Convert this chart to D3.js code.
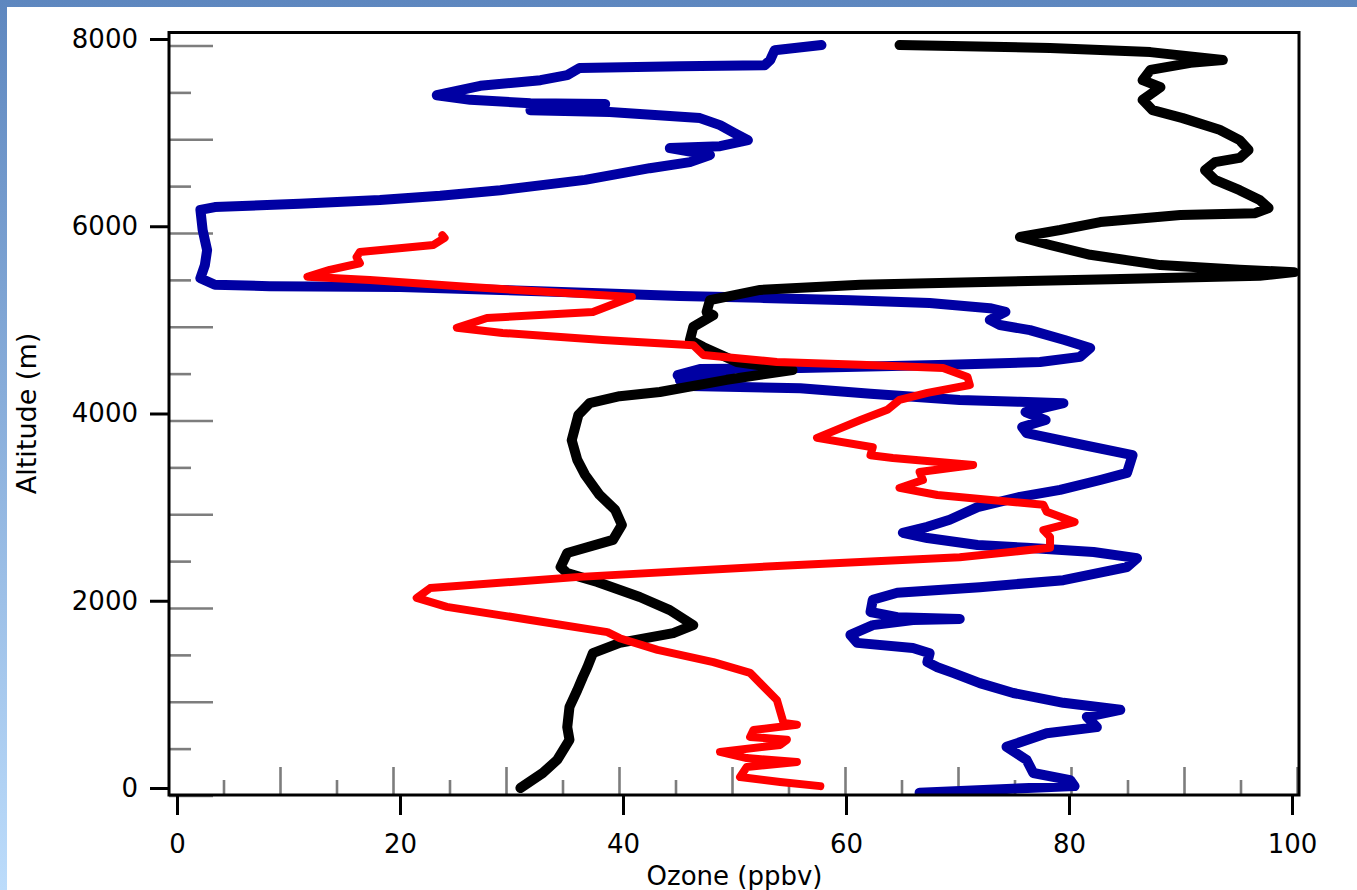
<!DOCTYPE html>
<html>
<head>
<meta charset="utf-8">
<script src="https://cdn.jsdelivr.net/npm/d3@7"></script>
<style>
  html, body { margin: 0; padding: 0; overflow: hidden; }
  body { width: 1357px; height: 890px; }
  svg { display: block; }
  text { font-family: "DejaVu Sans", Verdana, sans-serif; }
</style>
</head>
<body>
<svg id="chart" width="1357" height="890"></svg>
<script>
// ---- Data (ozone ppbv, altitude m) ----
const blueProfile = [
  [57.8,7935],[53.6,7880],[53.2,7775],[52.7,7720],[45.1,7710],[36.1,7690],[35.0,7615],
  [32.6,7560],[27.2,7500],[23.3,7400],[26.3,7350],[31.7,7315],[38.4,7305],[31.7,7240],
  [38.8,7220],[46.9,7155],[48.7,7080],[50.0,6995],[51.2,6920],[48.7,6855],[44.2,6835],
  [47.8,6760],[46.0,6685],[42.4,6620],[36.6,6495],[29.0,6385],[23.6,6325],[18.2,6280],
  [11.0,6240],[3.4,6205],[2.1,6175],[2.3,5960],[2.7,5745],[2.5,5585],[2.1,5445],
  [3.4,5375],[8.3,5360],[20.0,5350],[29.0,5320],[37.9,5285],[45.1,5255],[52.3,5235],
  [60.4,5210],[67.5,5180],[72.9,5125],[74.3,5085],[72.9,5000],[73.8,4945],[76.5,4890],
  [79.6,4785],[81.9,4700],[81.0,4605],[77.4,4550],[69.3,4520],[55.9,4485],[46.9,4475],
  [44.9,4410],[49.6,4440],[45.1,4358],[49.6,4326],[46.0,4294],[55.9,4270],[62.2,4210],
  [70.2,4145],[75.6,4125],[79.5,4110],[76.1,4015],[77.9,3930],[75.8,3855],[76.2,3790],
  [80.4,3685],[85.7,3555],[85.2,3365],[82.8,3290],[79.2,3185],[75.6,3110],[71.8,3000],
  [69.3,2865],[67.3,2790],[65.1,2725],[67.3,2670],[71.8,2595],[76.2,2565],[82.2,2520],
  [86.1,2455],[85.2,2360],[79.5,2220],[72.0,2145],[64.6,2085],[62.4,2010],[62.2,1880],
  [64.6,1825],[70.2,1805],[66.0,1795],[62.4,1740],[60.4,1635],[61.0,1550],[66.0,1495],
  [67.5,1440],[67.3,1345],[68.2,1290],[69.6,1230],[72.0,1120],[75.0,1015],[79.5,910],
  [84.6,835],[81.6,760],[82.5,650],[78.0,585],[74.4,440],[76.2,300],[76.8,160],
  [80.1,85],[80.5,20],[66.6,-50]
];
const blackProfile = [
  [64.8,7935],[78.3,7905],[87.3,7860],[93.8,7775],[90.9,7745],[87.3,7670],[86.6,7560],
  [88.2,7485],[86.6,7350],[87.5,7240],[90.2,7155],[93.5,7030],[95.3,6920],[96.1,6815],
  [95.3,6730],[93.1,6685],[92.2,6600],[93.1,6495],[95.3,6385],[97.1,6280],[97.9,6195],
  [96.7,6140],[90.0,6120],[82.8,6045],[79.2,5960],[75.6,5885],[78.3,5800],[81.9,5695],
  [88.2,5585],[95.3,5535],[100.2,5510],[97.1,5470],[83.7,5435],[61.3,5375],[52.3,5320],
  [47.8,5210],[47.5,5085],[48.1,5050],[46.3,4925],[46.0,4785],[47.2,4710],[50.2,4550],
  [55.2,4465],[49.3,4360],[43.3,4230],[39.7,4185],[37.0,4110],[36.0,3985],[35.4,3715],
  [35.9,3505],[36.6,3345],[37.9,3130],[39.3,2970],[39.9,2810],[39.1,2650],[35.0,2510],
  [34.4,2360],[35.0,2295],[37.7,2200],[41.5,2040],[44.2,1900],[46.3,1740],[44.5,1655],
  [39.7,1550],[37.3,1440],[36.8,1290],[36.4,1185],[35.9,1045],[35.2,865],[35.0,650],
  [35.2,515],[34.1,300],[32.8,160],[30.8,0]
];
const redProfile = [
  [23.8,5905],[24.0,5875],[23.0,5800],[16.4,5725],[16.1,5670],[16.4,5605],[13.7,5535],
  [11.7,5460],[17.3,5425],[26.3,5350],[35.2,5285],[40.8,5245],[37.3,5085],[27.8,5020],
  [25.1,4915],[29.2,4860],[38.2,4785],[46.3,4730],[47.2,4625],[53.8,4550],[61.3,4520],
  [68.7,4485],[70.9,4390],[71.1,4305],[67.3,4220],[64.8,4145],[63.7,4040],[61.3,3930],
  [57.4,3740],[62.4,3640],[62.2,3555],[64.2,3525],[71.4,3450],[66.6,3375],[66.9,3290],
  [64.8,3205],[68.2,3130],[77.7,3025],[78.0,2950],[80.5,2840],[77.7,2755],[78.3,2680],
  [78.3,2565],[70.2,2465],[55.2,2380],[36.1,2255],[22.7,2135],[21.5,2030],[24.2,1935],
  [31.7,1795],[38.6,1665],[39.7,1600],[43.1,1475],[48.1,1345],[51.4,1230],[52.3,1120],
  [53.8,940],[54.4,695],[55.6,675],[51.7,620],[51.4,545],[54.7,515],[54.1,460],
  [48.7,385],[51.1,320],[55.6,278],[51.1,225],[50.5,117],[54.1,64],[57.7,20]
];
const xTickValues = [0, 20, 40, 60, 80, 100];
const yTickValues = [0, 2000, 4000, 6000, 8000];
const xMinorInner = [5,10,15,20,25,30,35,40,45,50,55,60,65,70,75,80,85,90,95,100];
const yMinorInner = [0,500,1000,1500,2000,2500,3000,3500,4000,4500,5000,5500,6000,6500,7000,7500,8000];
const xTitle = "Ozone (ppbv)";
const yTitle = "Altitude (m)";

// ---- Drawing ----
const svg = d3.select("#chart");
const W = 1357, H = 890;

const defs = svg.append("defs");
const grad = defs.append("linearGradient").attr("id", "bg").attr("x1", 0).attr("y1", 0).attr("x2", 0).attr("y2", 1);
grad.append("stop").attr("offset", "0%").attr("stop-color", "#5e87bf");
grad.append("stop").attr("offset", "100%").attr("stop-color", "#bcdcfb");
svg.append("rect").attr("width", W).attr("height", H).attr("fill", "url(#bg)");
svg.append("rect").attr("x", 7).attr("y", 7).attr("width", W - 7).attr("height", H - 7).attr("fill", "#fff");

const frame = {left: 169, right: 1299, top: 32.5, bottom: 795};
const x = d3.scaleLinear().domain([0, 100]).range([177, 1292]);
const y = d3.scaleLinear().domain([0, 8000]).range([788, 39]);
const xi = d3.scaleLinear().domain([0, 100]).range([167, 1297]);
const yi = d3.scaleLinear().domain([0, 8000]).range([795.5, 45.5]);

// inner gray ticks
const gInnerY = svg.append("g").attr("transform", `translate(${frame.left},0)`)
  .call(d3.axisRight(yi).tickValues(yMinorInner).tickSizeInner(0).tickSizeOuter(0).tickFormat(""));
gInnerY.select(".domain").remove();
gInnerY.selectAll(".tick line")
  .attr("x2", d => (d % 1000 === 0) ? 44 : 22)
  .attr("stroke", "#7d7d7d").attr("stroke-width", 2.6);

const gInnerX = svg.append("g").attr("transform", `translate(0,${frame.bottom})`)
  .call(d3.axisTop(xi).tickValues(xMinorInner).tickSizeInner(0).tickSizeOuter(0).tickFormat(""));
gInnerX.select(".domain").remove();
gInnerX.selectAll(".tick line")
  .attr("y2", d => (d % 10 === 0) ? -28 : -15)
  .attr("stroke", "#7d7d7d").attr("stroke-width", 2.6);

// data lines
const line = d3.line().x(d => x(d[0])).y(d => y(d[1]));
const clip = defs.append("clipPath").attr("id", "plotclip");
clip.append("rect").attr("x", frame.left).attr("y", frame.top).attr("width", frame.right - frame.left).attr("height", frame.bottom - frame.top);
const gLines = svg.append("g").attr("clip-path", "url(#plotclip)");
gLines.append("path").datum(blueProfile).attr("d", line)
  .attr("fill", "none").attr("stroke", "#0000a3").attr("stroke-width", 10)
  .attr("stroke-linejoin", "round").attr("stroke-linecap", "round");
gLines.append("path").datum(blackProfile).attr("d", line)
  .attr("fill", "none").attr("stroke", "#000").attr("stroke-width", 10)
  .attr("stroke-linejoin", "round").attr("stroke-linecap", "round");
gLines.append("path").datum(redProfile).attr("d", line)
  .attr("fill", "none").attr("stroke", "#ff0000").attr("stroke-width", 8)
  .attr("stroke-linejoin", "round").attr("stroke-linecap", "round");

// frame
svg.append("rect").attr("x", frame.left).attr("y", frame.top)
  .attr("width", frame.right - frame.left).attr("height", frame.bottom - frame.top)
  .attr("fill", "none").attr("stroke", "#000").attr("stroke-width", 3);

// outer axes
const gY = svg.append("g").attr("transform", `translate(${frame.left},0)`)
  .call(d3.axisLeft(y).tickValues(yTickValues).tickSize(19).tickPadding(12).tickFormat(d3.format("d")));
gY.select(".domain").remove();
gY.selectAll(".tick line").attr("stroke", "#000").attr("stroke-width", 3);
gY.selectAll(".tick text").attr("font-size", 26).attr("fill", "#000")
  .attr("font-family", "'DejaVu Sans', Verdana, sans-serif");

const gX = svg.append("g").attr("transform", `translate(0,${frame.bottom})`)
  .call(d3.axisBottom(x).tickValues(xTickValues).tickSize(20).tickPadding(20).tickFormat(d3.format("d")));
gX.select(".domain").remove();
gX.selectAll(".tick line").attr("stroke", "#000").attr("stroke-width", 3);
gX.selectAll(".tick text").attr("font-size", 26).attr("fill", "#000")
  .attr("font-family", "'DejaVu Sans', Verdana, sans-serif");

// titles
svg.append("text").attr("x", (x(0) + x(100)) / 2).attr("y", 885)
  .attr("text-anchor", "middle").attr("font-size", 26).attr("fill", "#000").text(xTitle);
svg.append("text").attr("transform", `translate(36,${(y(0) + y(8000)) / 2}) rotate(-90)`)
  .attr("text-anchor", "middle").attr("font-size", 27).attr("fill", "#000").text(yTitle);
</script>
</body>
</html>
